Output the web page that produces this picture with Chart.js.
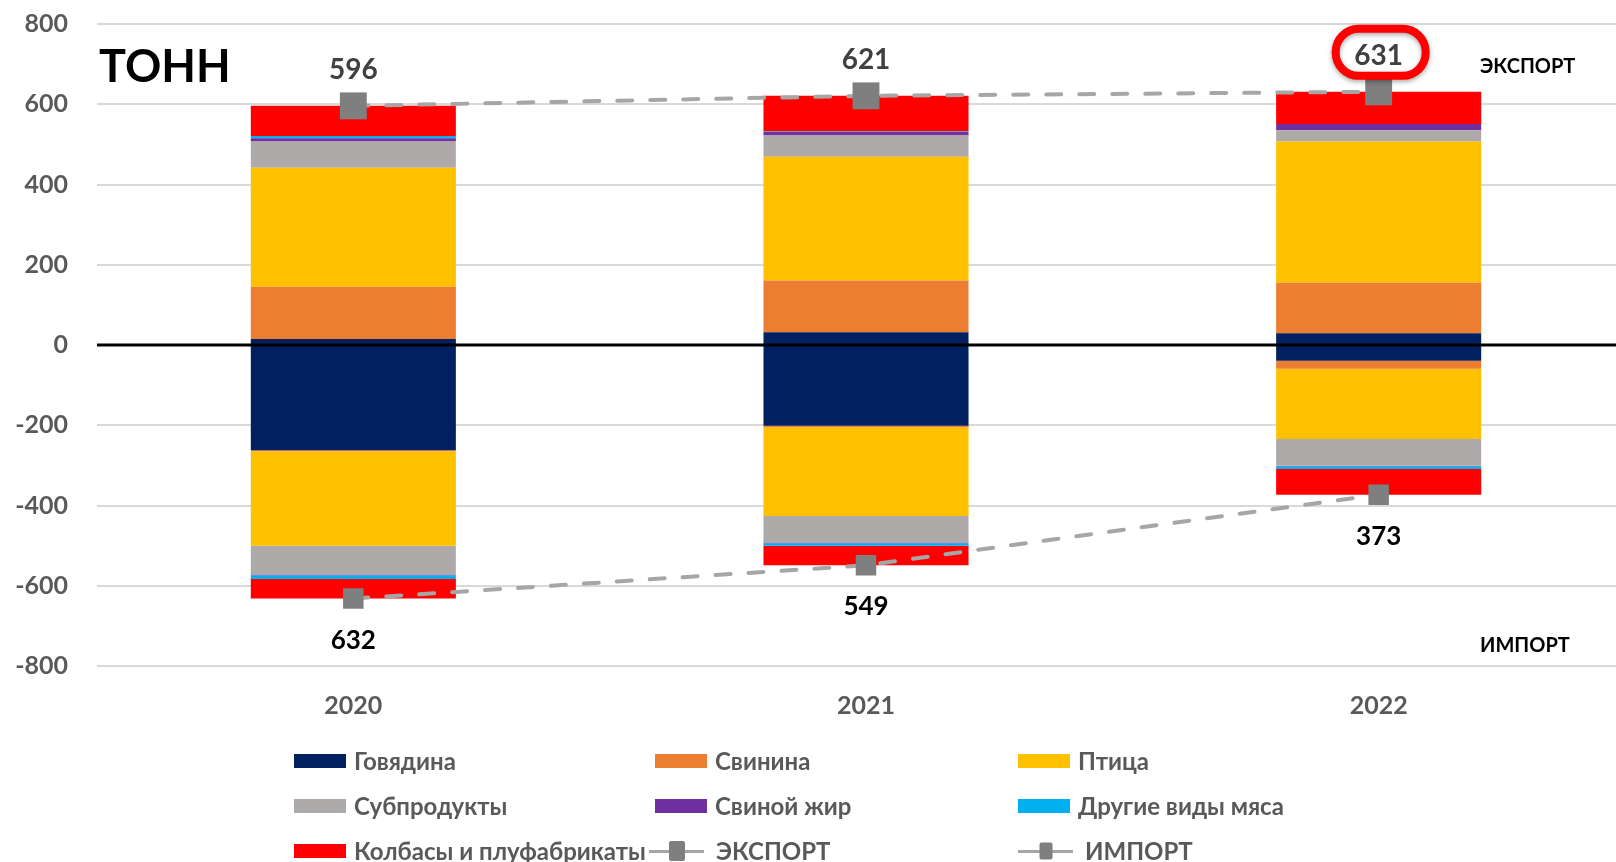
<!DOCTYPE html>
<html lang="ru">
<head>
  <meta charset="UTF-8" />
  <title>Экспорт и импорт мяса, тонн</title>
  <script src="https://cdn.jsdelivr.net/npm/chart.js"></script>
  <style>
    html, body {
      margin: 0;
      padding: 0;
      background: #fff;
      overflow: hidden;
    }
    .wrap {
      position: relative;
      width: 1616px;
      height: 862px;
      overflow: hidden;
    }
    #meatChart {
      position: absolute;
      left: 0;
      top: 0;
    }
    .legend {
      position: absolute;
      left: 294px;
      top: 738px;
      display: grid;
      grid-template-columns: 361px 363px 320px;
      font: bold 24px Lato, 'Open Sans', sans-serif;
      color: #595959;
    }
    .legend-item {
      display: flex;
      align-items: center;
      height: 45px;
      white-space: nowrap;
    }
    .swatch {
      width: 52px;
      height: 14px;
      margin-right: 8px;
    }
    .line-swatch {
      position: relative;
      width: 55px;
      height: 22px;
      margin-right: 12px;
    }
    .line-swatch.shift { margin-left: -6px; }
    .line-swatch::before {
      content: '';
      position: absolute;
      left: 0;
      right: 0;
      top: 10px;
      height: 3px;
      background: #A6A6A6;
    }
    .line-swatch span {
      position: absolute;
      left: 50%;
      top: 50%;
      transform: translate(-50%, -50%);
      background: #7F7F7F;
      border-radius: 2px;
    }
  </style>
</head>
<body>
  <div class="wrap">
    <canvas id="meatChart" width="1654" height="862"></canvas>
    <div class="legend" id="legend"></div>
  </div>

  <script>
    const years = ['2020', '2021', '2022'];

    const seriesNames = ['Говядина', 'Свинина', 'Птица', 'Субпродукты', 'Свиной жир', 'Другие виды мяса', 'Колбасы и плуфабрикаты'];
    const seriesColors = ['#002060', '#ED7D31', '#FFC000', '#AEAAAA', '#7030A0', '#00B0F0', '#FF0000'];

    // export (positive side)
    const exportBeef = [15, 32, 29];
    const exportPork = [130, 129, 126];
    const exportPoultry = [297, 308, 352];
    const exportOffal = [65, 53, 28];
    const exportLard = [8, 9, 16];
    const exportOther = [6, 1, 0];
    const exportSausage = [75, 89, 80];

    // import (negative side)
    const importBeef = [-262, -201, -39];
    const importPork = [-3, -4, -20];
    const importPoultry = [-235, -221, -175];
    const importOffal = [-72, -66, -67];
    const importLard = [-2, -2, -1];
    const importOther = [-9, -6, -7];
    const importSausage = [-49, -49, -64];

    const exportTotal = [596, 621, 631];
    const importTotal = [-632, -549, -373];

    const yTicks = [-800, -600, -400, -200, 0, 200, 400, 600, 800];

    const exportParts = [exportBeef, exportPork, exportPoultry, exportOffal, exportLard, exportOther, exportSausage];
    const importParts = [importBeef, importPork, importPoultry, importOffal, importLard, importOther, importSausage];

    const FONT = "Lato, 'Open Sans', sans-serif";

    function barSet(values, i) {
      return {
        type: 'bar',
        label: seriesNames[i],
        data: values,
        backgroundColor: seriesColors[i],
        borderWidth: 0,
        barPercentage: 0.4,
        categoryPercentage: 1.0,
        stack: 'meat'
      };
    }

    const datasets = [];
    exportParts.forEach((arr, i) => datasets.push(barSet(arr, i)));
    importParts.forEach((arr, i) => datasets.push(barSet(arr, i)));

    const exportIdx = datasets.length;
    datasets.push({
      type: 'line',
      label: 'ЭКСПОРТ',
      data: exportTotal,
      borderColor: '#A6A6A6',
      borderWidth: 4,
      borderDash: [15, 18],
      borderCapStyle: 'round',
      pointStyle: 'rect',
      pointRadius: 19,
      pointBackgroundColor: '#7F7F7F',
      pointBorderWidth: 0,
      fill: false,
      tension: 0,
      order: -1,
      stack: 'exp'
    });
    const importIdx = datasets.length;
    datasets.push({
      type: 'line',
      label: 'ИМПОРТ',
      data: importTotal,
      borderColor: '#A6A6A6',
      borderWidth: 4,
      borderDash: [15, 18],
      borderCapStyle: 'round',
      pointStyle: 'rect',
      pointRadius: 14.5,
      pointBackgroundColor: '#7F7F7F',
      pointBorderWidth: 0,
      fill: false,
      tension: 0,
      order: -1,
      stack: 'imp'
    });

    // zero line over bars, totals, captions
    const overlay = {
      id: 'overlay',
      afterDatasetsDraw(chart) {
        const ctx = chart.ctx;
        const area = chart.chartArea;
        const y = chart.scales.y;
        const zeroY = y.getPixelForValue(0);
        ctx.save();
        ctx.strokeStyle = '#000';
        ctx.lineWidth = 3;
        ctx.beginPath();
        ctx.moveTo(area.left, zeroY);
        ctx.lineTo(area.right, zeroY);
        ctx.stroke();

        ctx.textAlign = 'center';
        ctx.textBaseline = 'alphabetic';
        const expPts = chart.getDatasetMeta(exportIdx).data;
        expPts.forEach((p, i) => {
          ctx.fillStyle = '#404040';
          ctx.font = 'bold 28px ' + FONT;
          ctx.fillText(String(exportTotal[i]), p.x, p.y - 27);
        });
        const impPts = chart.getDatasetMeta(importIdx).data;
        impPts.forEach((p, i) => {
          ctx.fillStyle = '#000';
          ctx.font = 'bold 26px ' + FONT;
          ctx.fillText(String(Math.abs(importTotal[i])), p.x, p.y + 50);
        });

        // red highlight round the last export total
        const last = expPts[expPts.length - 1];
        const cx = last.x + 2, cy = last.y - 40;
        ctx.save();
        ctx.shadowColor = 'rgba(0,0,0,0.35)';
        ctx.shadowBlur = 5;
        ctx.shadowOffsetY = 2;
        ctx.strokeStyle = '#FF0000';
        ctx.lineWidth = 8;
        ctx.beginPath();
        ctx.roundRect(cx - 45, cy - 23, 90, 47, 23);
        ctx.stroke();
        ctx.restore();

        ctx.textAlign = 'left';
        ctx.fillStyle = '#000';
        ctx.font = 'bold 45px ' + FONT;
        ctx.fillText('ТОНН', 99, 82);
        ctx.font = 'bold 20px ' + FONT;
        ctx.fillText('ЭКСПОРТ', 1480, 73);
        ctx.fillText('ИМПОРТ', 1480, 652);
        ctx.restore();
      }
    };

    const ctx = document.getElementById('meatChart').getContext('2d');
    const chart = new Chart(ctx, {
      data: { labels: years, datasets: datasets },
      options: {
        responsive: false,
        animation: false,
        layout: { padding: { top: 24, right: 5, bottom: 141, left: 0 } },
        plugins: {
          legend: { display: false },
          tooltip: { enabled: false }
        },
        scales: {
          x: {
            stacked: true,
            grid: { display: false, drawTicks: false },
            border: { display: false },
            ticks: {
              padding: 25,
              color: '#595959',
              font: { family: FONT, size: 25, weight: 'bold' }
            },
            afterFit(scale) { scale.height = 55; }
          },
          y: {
            stacked: true,
            min: -800,
            max: 800,
            afterBuildTicks(scale) { scale.ticks = yTicks.map(v => ({ value: v })); },
            grid: {
              drawTicks: false,
              lineWidth: 2,
              color: c => c.tick && c.tick.value === 0 ? 'rgba(0,0,0,0)' : '#D9D9D9'
            },
            border: { display: false },
            ticks: {
              padding: 29,
              color: '#595959',
              font: { family: FONT, size: 25, weight: 'bold' },
              callback: v => String(v)
            },
            afterFit(scale) {
              scale.width = 97;
              scale.paddingTop = 0;
              scale.paddingBottom = 0;
            }
          }
        }
      },
      plugins: [overlay]
    });

    // legend in the chart's own order
    const legend = document.getElementById('legend');
    seriesNames.forEach((name, i) => {
      const item = document.createElement('div');
      item.className = 'legend-item';
      item.innerHTML = '<div class="swatch" style="background:' + seriesColors[i] + '"></div>' + name;
      legend.appendChild(item);
    });
    [['ЭКСПОРТ', 16, 'line-swatch shift'], ['ИМПОРТ', 13, 'line-swatch']].forEach(([name, sz, cls]) => {
      const item = document.createElement('div');
      item.className = 'legend-item';
      item.innerHTML = '<div class="' + cls + '"><span style="width:' + sz + 'px;height:' + (sz + 4) + 'px"></span></div>' + name;
      legend.appendChild(item);
    });
  </script>
</body>
</html>
